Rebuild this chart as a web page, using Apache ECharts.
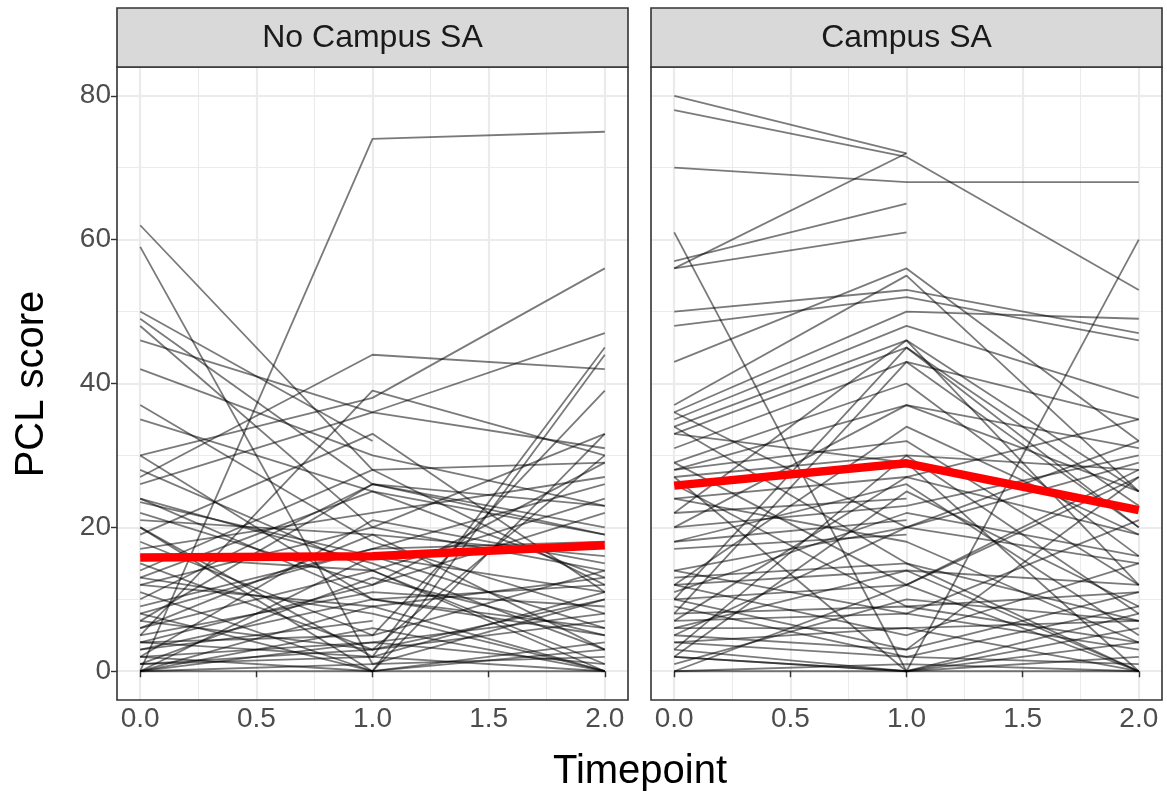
<!DOCTYPE html>
<html>
<head>
<meta charset="utf-8">
<script src="https://cdn.jsdelivr.net/npm/echarts@6/dist/echarts.min.js"></script>
<style>
  html, body { margin: 0; padding: 0; background: #fff; }
  #chart { width: 1167px; height: 796px; }
</style>
</head>
<body>
<div id="chart"></div>
<script>
// timepoints on the x axis
var timepoints = [0, 1, 2];
var panelNames = ['No Campus SA', 'Campus SA'];

// one row per subject: PCL score at timepoint 0, 1, 2 (null = missing)
var noCampusScores = [
  [0, 74, 75], [62, 28, 12], [59, 1, 10], [50, 32, null], [49, 26, 19],
  [48, 20, 14], [46, 36, 31], [42, 30, 23], [37, 18, 8], [35, 25, 13],
  [30, 10, 6], [27, 44, 42], [30, 38, 56], [26, 36, 47], [24, 15, 3],
  [23.5, 16, 11], [22, 12, 29], [21, 19, 16], [20, 2, 45], [20, 0, 44],
  [18, 5, 39], [17, 22, 27], [13, 8, 0], [12, 20, 33], [10, 26, 20],
  [8, 17, 26], [7, 3, 30], [6, 14, 24], [5, 11, 9], [5, 39, 30],
  [4, 12, 22], [3, 7, null], [2, 21, 15], [1, 3, 7], [0, 6, 0],
  [0, 1, 2], [0, 0, 0], [1, 13, 5], [4, 2, 0], [3, 10, 12],
  [2, 4, 8], [0, 9, 13], [16, 14, 1], [14, 28, 29], [9, 17, 18],
  [15, 3, 10], [19, 33, 11], [11, 0, 4], [6, 19, 3], [13, 25, 19],
  [0, 16, 6], [4, 5, 14], [28, 14, 0], [2, 0, 33], [12, 9, 0],
  [7, 26, 23], [24, 10, 5], [1, 2, 11], [0, 4, 1], [8, 0, 3]
];
var campusScores = [
  [80, 72, null], [78, 71.5, 53], [56, 72, null], [70, 68, 68], [57, 65, null],
  [56, 61, null], [61, 0, 8], [2, 0, 60], [50, 53, 47], [48, 52, 46],
  [43, 56, 32], [37, 55, 25], [36, 50, 49], [35, 48, 38], [34, 46, 25],
  [33, 45, 20], [31, 43, 35], [29, 40, 16], [28, 37, 31], [28, 32, 12],
  [27, 30, 28], [24, 27, 19], [22, 24, null], [20, 23, 30], [18, 21, null],
  [17, 19, null], [14, 20, 29], [13, 15, 7], [12, 14, 0], [10, 12, 27],
  [8, 9, 4], [7, 8, 3], [6, 6, 0], [5, 3, 11], [4, 2, 9],
  [3, 0, 2], [2, 0, 6], [0, 1, 0], [0, 0, 4], [36, 20, 15],
  [34, 15, 0], [29, 12, 0], [26, 9, 11], [22, 46, 12], [20, 37, 25],
  [10, 45, 23], [8, 43, 20], [12, 34, 19], [7, 27, 35], [5, 20, 32],
  [3, 30, 8], [2, 25, 9], [14, 8, 21], [10, 3, 27], [18, 26, 5],
  [0, 12, 28], [4, 6, 7], [6, 14, 12], [33, 29, 0], [27, 0, 0],
  [12, 5, 15], [1, 10, 7], [11, 22, 16], [24, 18, 4], [9, 2, 1]
];

// group means (red lines)
var noCampusMean = [15.8, 16.0, 17.5];
var campusMean = [25.8, 28.9, 22.4];

var myChart = echarts.init(document.getElementById('chart'));

// panel geometry (ggplot panel incl. 5% expansion)
var panelLeft = [117, 651];
var panelTop = 67;
var panelW = 511;
var panelH = 633;
var padX = panelW * 0.1 / 2.2;

var gridColor = '#EBEBEB';
var tickColor = '#333333';
var labelColor = '#4D4D4D';
var font = 'Liberation Sans, Arial, sans-serif';

function toPoints(row) {
  var pts = [];
  for (var i = 0; i < timepoints.length; i++) {
    if (row[i] != null) pts.push([timepoints[i], row[i]]);
  }
  return pts;
}

var grids = [], xAxes = [], yAxes = [], series = [];

[noCampusScores, campusScores].forEach(function (rows, p) {
  var means = p === 0 ? noCampusMean : campusMean;
  // data grid: x spans 0..2 exactly, y spans the whole panel (-4..84)
  grids.push({left: panelLeft[p] + padX, top: panelTop, width: panelW - 2 * padX, height: panelH});
  // helper grid for horizontal grid lines: full panel width, y 0..80
  grids.push({left: panelLeft[p], top: panelTop + panelH * 4 / 88, width: panelW, height: panelH * 80 / 88});

  xAxes.push({
    type: 'value', gridIndex: 2 * p, min: 0, max: 2, interval: 0.5,
    axisLine: {show: false},
    axisTick: {show: true, length: 6, lineStyle: {color: tickColor, width: 1.4}},
    axisLabel: {color: labelColor, fontSize: 28, fontFamily: font, margin: 5,
      formatter: function (v) { return v.toFixed(1); }},
    splitLine: {show: true, lineStyle: {color: gridColor, width: 2.2}},
    minorTick: {show: false, splitNumber: 2},
    minorSplitLine: {show: true, lineStyle: {color: gridColor, width: 1.1}}
  });
  xAxes.push({type: 'value', gridIndex: 2 * p + 1, min: 0, max: 1, show: false});

  yAxes.push({type: 'value', gridIndex: 2 * p, min: -4, max: 84, show: false});
  yAxes.push({
    type: 'value', gridIndex: 2 * p + 1, min: 0, max: 80, interval: 20,
    axisLine: {show: false},
    axisTick: {show: p === 0, length: 6, lineStyle: {color: tickColor, width: 1.4}},
    axisLabel: {show: p === 0, color: labelColor, fontSize: 28, fontFamily: font, margin: 6},
    splitLine: {show: true, lineStyle: {color: gridColor, width: 2.2}},
    minorTick: {show: false, splitNumber: 2},
    minorSplitLine: {show: true, lineStyle: {color: gridColor, width: 1.1}}
  });

  rows.forEach(function (row) {
    series.push({
      type: 'line', xAxisIndex: 2 * p, yAxisIndex: 2 * p,
      data: toPoints(row), symbol: 'none', silent: true, clip: false,
      lineStyle: {color: 'rgba(0,0,0,0.52)', width: 1.8}, z: 3
    });
  });
  series.push({
    type: 'line', xAxisIndex: 2 * p, yAxisIndex: 2 * p,
    data: toPoints(means), symbol: 'none', silent: true, clip: false,
    lineStyle: {color: '#FF0000', width: 8.5}, z: 5
  });
});

var graphics = [];
panelNames.forEach(function (name, p) {
  graphics.push({
    type: 'rect', z: 10, silent: true,
    shape: {x: panelLeft[p], y: panelTop, width: panelW, height: panelH},
    style: {fill: 'none', stroke: '#333333', lineWidth: 1.6}
  });
  graphics.push({
    type: 'rect', z: 10, silent: true,
    shape: {x: panelLeft[p], y: 8, width: panelW, height: panelTop - 8},
    style: {fill: '#D9D9D9', stroke: '#333333', lineWidth: 1.6}
  });
  graphics.push({
    type: 'text', z: 11, silent: true,
    x: panelLeft[p] + panelW / 2, y: (8 + panelTop) / 2 + 1,
    style: {text: name, fill: '#1A1A1A', fontSize: 32, fontFamily: font,
      textAlign: 'center', textVerticalAlign: 'middle'}
  });
});
graphics.push({
  type: 'text', silent: true, x: 640, y: 772,
  style: {text: 'Timepoint', fill: '#000', fontSize: 40, fontFamily: font,
    textAlign: 'center', textVerticalAlign: 'middle'}
});
graphics.push({
  type: 'text', silent: true, x: 32, y: 384, rotation: Math.PI / 2,
  style: {text: 'PCL score', fill: '#000', fontSize: 40, fontFamily: font,
    textAlign: 'center', textVerticalAlign: 'middle'}
});

var option = {
  animation: false,
  backgroundColor: '#fff',
  grid: grids,
  xAxis: xAxes,
  yAxis: yAxes,
  series: series,
  graphic: graphics
};
myChart.setOption(option);
</script>
</body>
</html>
